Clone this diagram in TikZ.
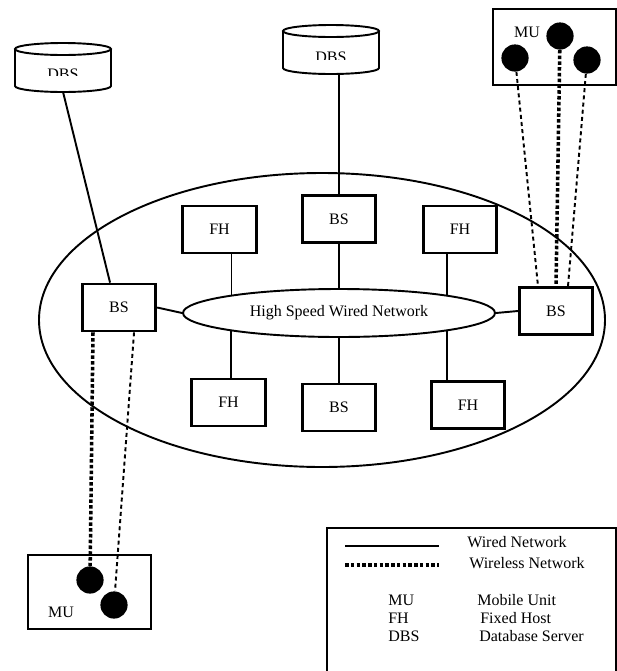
\documentclass[tikz,border=0pt]{standalone}
\usepackage{fontspec}
\setmainfont{Liberation Serif}
\usetikzlibrary{shapes.geometric,calc,backgrounds}

\tikzset{
  unit/.style={draw, line width=1.7pt, minimum width=46pt, minimum height=29.4pt, inner sep=0pt},
  wired/.style={line width=1.2pt},
  wlthick/.style={line width=2.2pt, dash pattern=on 2.2pt off 1.4pt},
  wlthin/.style={line width=1.2pt, dash pattern=on 2.5pt off 2pt},
  mobile/.style={circle, fill=black, minimum size=17pt, inner sep=0pt},
  dbs/.style={minimum width=60pt, minimum height=30.6pt, inner sep=0pt},
  drum/.style={line width=1.2pt},
  frame/.style={draw, line width=1.7pt}
}

\begin{document}
\begin{tikzpicture}[x=0.625pt, y=-0.625pt, font=\fontsize{10}{12}\selectfont]
  \useasboundingbox (0,0) rectangle (617,671);
  \clip (0,0) rectangle (617,671);

  % outer network area
  \draw[line width=1.2pt] (322,320) ellipse [x radius=283, y radius=147];

  % database servers
  \node[dbs] (dbsL) at (63,67) {};
  \node[dbs] (dbsT) at (331,50) {};
  \draw[drum] (15,49) -- (15,86) arc [start angle=180, end angle=0, x radius=48, y radius=6] -- (111,49);
  \draw[drum] (63,49) ellipse [x radius=48, y radius=6];
  \draw[drum] (283,31) -- (283,68) arc [start angle=180, end angle=0, x radius=48, y radius=6] -- (379,31);
  \draw[drum] (331,31) ellipse [x radius=48, y radius=6];
  \begin{scope}
    \clip (0,60) rectangle (150,75);
    \node[anchor=base, inner sep=0pt] (dbsLtxt) at (63,79) {DBS};
  \end{scope}
  \begin{scope}
    \clip (250,40) rectangle (420,59);
    \node[anchor=base, inner sep=0pt] (dbsTtxt) at (331,62) {DBS};
  \end{scope}

  % backbone
  \node[ellipse, draw, fill=white, line width=1.2pt, minimum width=195pt, minimum height=30pt, inner sep=0pt]
    (net) at (339,313) {High Speed Wired Network};

  % base stations and fixed hosts
  \node[unit] (bsL) at (119,307.5) {BS};
  \node[unit] (bsR) at (556,311) {BS};
  \node[unit] (bsT) at (339,219) {BS};
  \node[unit] (bsB) at (339,407.5) {BS};
  \node[unit] (fhTL) at (219.5,229.5) {FH};
  \node[unit] (fhTR) at (460,229.5) {FH};
  \node[unit] (fhBL) at (228.5,402.5) {FH};
  \node[unit] (fhBR) at (468,405) {FH};

  % wired links (behind the backbone)
  \begin{pgfonlayer}{background}
    \draw[wired] (dbsL.south) -- ([xshift=-5.6pt]bsL.north);
    \draw[wired] (bsT.north) -- (bsT.north |- dbsT.south);
    \draw[wired] (bsT) -- (bsT |- net.center);
    \draw[wired] ([xshift=7.5pt]fhTL.south) -- ([xshift=7.5pt]fhTL.south |- net.center);
    \draw[wired] ([xshift=-8pt]fhTR.south) -- ([xshift=-8pt]fhTR.south |- net.center);
    \draw[wired] ([xshift=1.5pt]fhBL.north) -- ([xshift=1.5pt]fhBL.north |- net.center);
    \draw[wired] (bsB.north) -- (bsB.north |- net.center);
    \draw[wired] ([xshift=-13pt]fhBR.north) -- ([xshift=-13pt]fhBR.north |- net.center);
    \draw[wired] (bsL.east) -- (net.west);
    \draw[wired] (bsR.west) -- (net.east);
  \end{pgfonlayer}

  % mobile units, top right
  \draw[frame] (493,9) rectangle (616,85);
  \node (muTtxt) at (527,32) {MU};
  \node[mobile] (muTa) at (515,58) {};
  \node[mobile] (muTb) at (560,36) {};
  \node[mobile] (muTc) at (587,60) {};
  \draw[wlthin] (muTa) -- ([xshift=-11.25pt]bsR.north);
  \draw[wlthick] (muTb) -- (bsR.north);
  \draw[wlthin] (muTc) -- ([xshift=7.5pt]bsR.north);

  % mobile units, bottom left
  \draw[frame] (28,555) rectangle (151,629);
  \node (muBtxt) at (61,612) {MU};
  \node[mobile] (muBa) at (90,580) {};
  \node[mobile] (muBb) at (114,605) {};
  \draw[wlthick] ([xshift=-16.25pt]bsL.south) -- (muBa);
  \draw[wlthin] ([xshift=9.4pt]bsL.south) -- (muBb);

  % legend
  \draw[frame] (327,528) rectangle (616,690);
  \coordinate (lgA) at (345,546);
  \coordinate (lgB) at (439,546);
  \coordinate (lgC) at (345,565);
  \coordinate (lgD) at (439,565);
  \draw[wired] (lgA) -- (lgB);
  \draw[wlthick] (lgC) -- (lgD);
  \node[anchor=west, inner sep=0pt] (lgWired) at (467,542) {Wired Network};
  \node[anchor=west, inner sep=0pt] (lgWless) at (469,563) {Wireless Network};
  \node[anchor=west, inner sep=0pt] (lgMU) at (388,600) {MU};
  \node[anchor=west, inner sep=0pt] (lgFH) at (388,618) {FH};
  \node[anchor=west, inner sep=0pt] (lgDBS) at (388,636) {DBS};
  \node[anchor=west, inner sep=0pt] (lgMUd) at (477,600) {Mobile Unit};
  \node[anchor=west, inner sep=0pt] (lgFHd) at (480,618) {Fixed Host};
  \node[anchor=west, inner sep=0pt] (lgDBSd) at (479,636) {Database Server};
\end{tikzpicture}
\end{document}
